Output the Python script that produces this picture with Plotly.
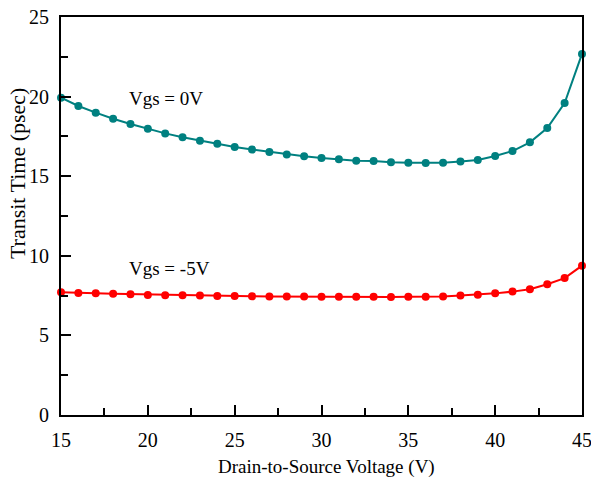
import plotly.graph_objects as go

vds = list(range(15, 46))
t_vgs0 = [19.93, 19.41, 18.99, 18.61, 18.28, 17.98, 17.69, 17.45, 17.23, 17.04,
          16.83, 16.67, 16.52, 16.37, 16.25, 16.14, 16.06, 15.97, 15.95, 15.87,
          15.84, 15.83, 15.84, 15.92, 16.02, 16.27, 16.58, 17.13, 18.03, 19.6, 22.68]
t_vgs5 = [7.71, 7.66, 7.64, 7.61, 7.59, 7.54, 7.52, 7.52, 7.50, 7.48,
          7.47, 7.46, 7.45, 7.44, 7.44, 7.43, 7.43, 7.42, 7.42, 7.41,
          7.43, 7.43, 7.45, 7.50, 7.56, 7.64, 7.75, 7.90, 8.21, 8.60, 9.38]

font = "Liberation Serif, Times New Roman, serif"

fig = go.Figure()
fig.add_trace(go.Scatter(x=vds, y=t_vgs0, mode="lines+markers",
                         line=dict(color="#008080", width=2),
                         marker=dict(color="#008080", size=8),
                         cliponaxis=False, showlegend=False))
fig.add_trace(go.Scatter(x=vds, y=t_vgs5, mode="lines+markers",
                         line=dict(color="#ff0000", width=2),
                         marker=dict(color="#ff0000", size=8),
                         cliponaxis=False, showlegend=False))

fig.add_annotation(x=21.05, y=19.85, text="Vgs = 0V", showarrow=False,
                   font=dict(family=font, size=19, color="black"))
fig.add_annotation(x=21.25, y=9.23, text="Vgs = -5V", showarrow=False,
                   font=dict(family=font, size=19, color="black"))
# axis titles
fig.add_annotation(xref="paper", yref="paper", x=-0.0835, y=0.609, text="Transit Time (psec)",
                   textangle=-90, showarrow=False, xanchor="center", yanchor="middle",
                   font=dict(family=font, size=22, color="black"))
fig.add_annotation(xref="paper", yref="paper", x=0.51, y=-0.13, text="Drain-to-Source Voltage (V)",
                   showarrow=False, xanchor="center", yanchor="middle",
                   font=dict(family=font, size=19, color="black"))

fig.update_xaxes(range=[15, 45], tickvals=[15, 20, 25, 30, 35, 40, 45],
                 ticks="inside", ticklen=10, tickwidth=2, tickcolor="black",
                 minor=dict(dtick=2.5, tick0=15, ticks="inside", ticklen=7, tickwidth=2, tickcolor="black"),
                 showline=True, linecolor="black", linewidth=2, mirror=True,
                 showgrid=False, zeroline=False, automargin=False,
                 ticklabelstandoff=6, ticklabeloverflow="allow",
                 tickfont=dict(family=font, size=20, color="black"))
fig.update_yaxes(range=[0, 25], tickvals=[0, 5, 10, 15, 20, 25],
                 ticks="inside", ticklen=10, tickwidth=2, tickcolor="black",
                 minor=dict(dtick=2.5, tick0=0, ticks="inside", ticklen=7, tickwidth=2, tickcolor="black"),
                 showline=True, linecolor="black", linewidth=2, mirror=True,
                 showgrid=False, zeroline=False, automargin=False,
                 ticklabelstandoff=6, ticklabeloverflow="allow",
                 tickfont=dict(family=font, size=20, color="black"))

fig.update_layout(width=591, height=484, plot_bgcolor="white", paper_bgcolor="white",
                  margin=dict(l=61, r=9, t=17, b=69))

fig.write_html("out.html")
